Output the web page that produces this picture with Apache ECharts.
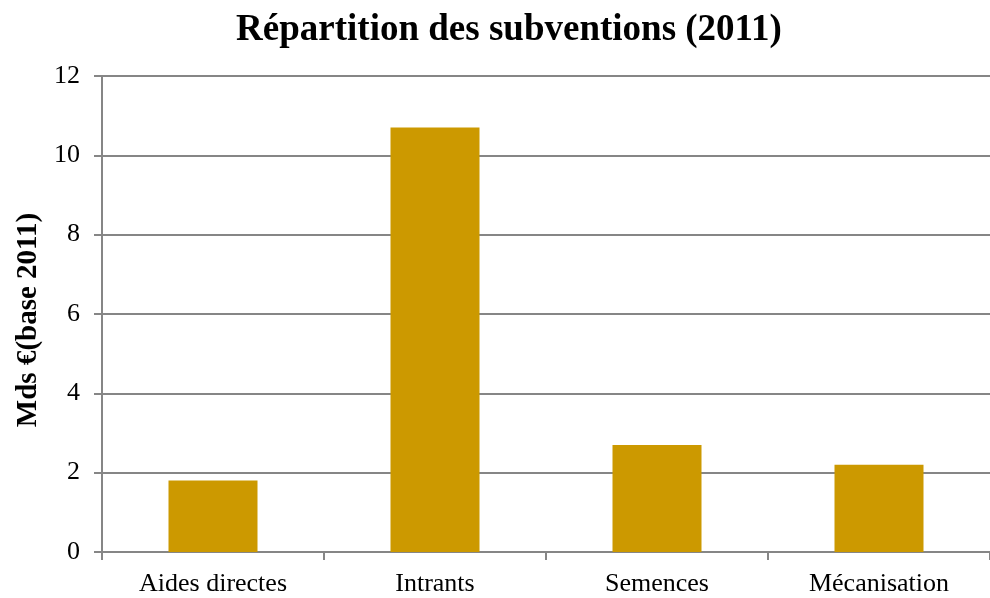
<!DOCTYPE html>
<html>
<head>
<meta charset="utf-8">
<script src="https://cdn.jsdelivr.net/npm/echarts@6/dist/echarts.min.js"></script>
<style>
  html, body { margin: 0; padding: 0; background: #fff; }
  #chart { width: 990px; height: 598px; }
</style>
</head>
<body>
<div id="chart"></div>
<script>
// données du graphique
var categories = ['Aides directes', 'Intrants', 'Semences', 'Mécanisation'];
var montants = [1.8, 10.7, 2.7, 2.2];
var yTicks = [0, 2, 4, 6, 8, 10, 12];

var chart = echarts.init(document.getElementById('chart'));
var axisGray = '#868686';
var serif = '"Liberation Serif", "DejaVu Serif", serif';

chart.setOption({
    animation: false,
    title: {
        text: 'Répartition des subventions (2011)',
        left: 504,
        top: 7,
        textAlign: 'center',
        textStyle: { fontFamily: serif, fontWeight: 'bold', fontSize: 37, color: '#000' }
    },
    grid: { left: 102, right: -4, top: 76, bottom: 46, containLabel: false },
    xAxis: {
        type: 'category',
        data: categories,
        axisLine: { lineStyle: { color: axisGray, width: 2 } },
        axisTick: { show: true, length: 8, alignWithLabel: false, lineStyle: { color: axisGray, width: 2 } },
        axisLabel: { margin: 19, fontFamily: serif, fontSize: 26, color: '#000' }
    },
    yAxis: {
        type: 'value',
        min: yTicks[0],
        max: yTicks[yTicks.length - 1],
        interval: 2,
        name: 'Mds €(base 2011)',
        nameLocation: 'middle',
        nameGap: 59,
        nameTextStyle: { fontFamily: serif, fontWeight: 'bold', fontSize: 29, color: '#000', padding: [0, 12, 0, 0] },
        axisLine: { show: true, lineStyle: { color: axisGray, width: 2 } },
        axisTick: { show: true, length: 8, lineStyle: { color: axisGray, width: 2 } },
        axisLabel: { margin: 22, fontFamily: serif, fontSize: 26, color: '#000' },
        splitLine: { show: true, lineStyle: { color: axisGray, width: 2 } }
    },
    series: [{
        type: 'bar',
        data: montants,
        barWidth: 89,
        itemStyle: { color: '#CC9900' }
    }]
});
</script>
</body>
</html>
